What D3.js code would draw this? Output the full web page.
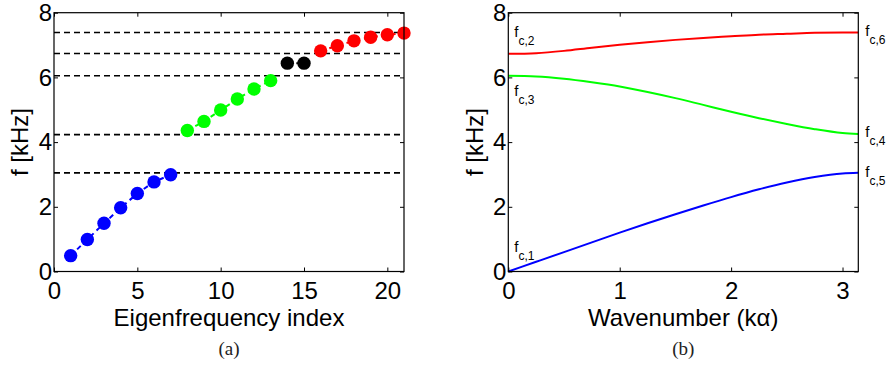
<!DOCTYPE html>
<html>
<head>
<meta charset="utf-8">
<script src="https://cdn.jsdelivr.net/npm/d3@7/dist/d3.min.js"></script>
<style>
  body { margin: 0; background: #fff; }
  text { font-family: "Liberation Sans", Arial, sans-serif; }
</style>
</head>
<body>
<svg id="fig" width="887" height="367"></svg>
<script>
// ---- panel (a) data ----
const eigenIndex = [1, 2, 3, 4, 5, 6, 7, 8, 9, 10, 11, 12, 13, 14, 15, 16, 17, 18, 19, 20, 21];
const eigenFreq = [0.49, 0.99, 1.49, 1.97, 2.41, 2.77, 2.99,
                   4.36, 4.64, 4.99, 5.33, 5.64, 5.90,
                   6.44, 6.44,
                   6.82, 6.98, 7.13, 7.24, 7.32, 7.37];
const eigenGroup = ["b", "b", "b", "b", "b", "b", "b",
                    "g", "g", "g", "g", "g", "g",
                    "k", "k",
                    "r", "r", "r", "r", "r", "r"];
const cutoffFreq = [3.05, 4.23, 6.05, 6.74, 7.39];
const xTicksA = [0, 5, 10, 15, 20];
const yTicks = [0, 2, 4, 6, 8];

// ---- panel (b) data ----
const wavenumber = [0, 0.25, 0.5, 0.75, 1.0, 1.25, 1.5, 1.75, 2.0, 2.25, 2.5, 2.75, 3.0, 3.1416];
const branch1 = [0, 0.30, 0.60, 0.90, 1.20, 1.49, 1.77, 2.04, 2.30, 2.54, 2.75, 2.92, 3.03, 3.05];
const branch2 = [6.05, 6.03, 5.96, 5.85, 5.72, 5.55, 5.36, 5.15, 4.94, 4.74, 4.56, 4.40, 4.28, 4.25];
const branch3 = [6.73, 6.75, 6.82, 6.92, 7.01, 7.09, 7.16, 7.22, 7.27, 7.32, 7.35, 7.38, 7.39, 7.39];
const xTicksB = [0, 1, 2, 3];

const colors = { b: "#0000ff", g: "#00ff00", k: "#000000", r: "#ff0000" };

const svg = d3.select("#fig");
const plotTop = 12.7, plotBottom = 271.5;
const fs = 24;

function frame(g, x, y, xTicks, xLabel, yLabelX, tag) {
  const x0 = x.range()[0], x1 = x.range()[1];
  const cx = (x0 + x1) / 2;

  // bottom axis with labels
  g.append("g").attr("transform", `translate(0,${plotBottom})`)
    .call(d3.axisBottom(x).tickValues(xTicks).tickFormat(d3.format("d"))
      .tickSizeInner(-4).tickSizeOuter(0).tickPadding(10))
    .call(a => a.select(".domain").remove())
    .call(a => a.selectAll("text").attr("font-size", fs));
  // top axis, ticks only
  g.append("g").attr("transform", `translate(0,${plotTop})`)
    .call(d3.axisTop(x).tickValues(xTicks).tickSizeInner(-4).tickSizeOuter(0).tickFormat(""))
    .call(a => a.select(".domain").remove());
  // left axis with labels
  g.append("g").attr("transform", `translate(${x0},0)`)
    .call(d3.axisLeft(y).tickValues(yTicks).tickSizeInner(-4).tickSizeOuter(0).tickPadding(2))
    .call(a => a.select(".domain").remove())
    .call(a => a.selectAll("text").attr("font-size", fs));
  // right axis, ticks only
  g.append("g").attr("transform", `translate(${x1},0)`)
    .call(d3.axisRight(y).tickValues(yTicks).tickSizeInner(-4).tickSizeOuter(0).tickFormat(""))
    .call(a => a.select(".domain").remove());

  g.append("rect")
    .attr("x", x0).attr("y", plotTop)
    .attr("width", x1 - x0).attr("height", plotBottom - plotTop)
    .attr("fill", "none").attr("stroke", "#000").attr("stroke-width", 1.2);

  g.append("text")
    .attr("x", cx).attr("y", 326)
    .attr("text-anchor", "middle")
    .attr("font-size", fs)
    .text(xLabel);

  g.append("text")
    .attr("transform", `translate(${yLabelX},${(plotTop + plotBottom) / 2}) rotate(-90)`)
    .attr("text-anchor", "middle")
    .attr("font-size", fs)
    .text("f [kHz]");

  g.append("text")
    .attr("x", cx).attr("y", 355)
    .attr("text-anchor", "middle")
    .attr("font-size", 19)
    .style("font-family", "'Liberation Serif', 'Times New Roman', serif")
    .attr("fill", "#222")
    .text(tag);
}

// ================= panel (a) =================
const xA = d3.scaleLinear().domain([0, 21]).range([54, 404]);
const y = d3.scaleLinear().domain([0, 8]).range([plotBottom, plotTop]);
const gA = svg.append("g");

// dashed cut-off lines
gA.selectAll("line.cut")
  .data(cutoffFreq)
  .enter()
  .append("line")
    .attr("class", "cut")
    .attr("x1", xA(0)).attr("x2", xA(21))
    .attr("y1", d => y(d)).attr("y2", d => y(d))
    .attr("stroke", "#000")
    .attr("stroke-width", 1.6)
    .attr("stroke-dasharray", "6,4");

const pts = eigenIndex.map((d, i) => ({ i: d, f: eigenFreq[i], grp: eigenGroup[i] }));
const groups = d3.groups(pts, d => d.grp);
const connect = d3.line().x(d => xA(d.i)).y(d => y(d.f));

gA.selectAll("path.conn")
  .data(groups)
  .enter()
  .append("path")
    .attr("class", "conn")
    .attr("d", d => connect(d[1]))
    .attr("fill", "none")
    .attr("stroke", d => colors[d[0]])
    .attr("stroke-width", 2)
    .attr("stroke-dasharray", "5,4");

gA.selectAll("circle")
  .data(pts)
  .enter()
  .append("circle")
    .attr("cx", d => xA(d.i))
    .attr("cy", d => y(d.f))
    .attr("r", 6.7)
    .attr("fill", d => colors[d.grp]);

frame(gA, xA, y, xTicksA, "Eigenfrequency index", 28, "(a)");

// ================= panel (b) =================
const xB = d3.scaleLinear().domain([0, Math.PI]).range([508.3, 858.3]);
const gB = svg.append("g");

const branches = [
  { vals: branch1, color: colors.b },
  { vals: branch2, color: colors.g },
  { vals: branch3, color: colors.r }
];
const curve = d3.line()
  .x((d, i) => xB(wavenumber[i]))
  .y(d => y(d))
  .curve(d3.curveMonotoneX);

gB.selectAll("path.branch")
  .data(branches)
  .enter()
  .append("path")
    .attr("class", "branch")
    .attr("d", d => curve(d.vals))
    .attr("fill", "none")
    .attr("stroke", d => d.color)
    .attr("stroke-width", 2);

frame(gB, xB, y, xTicksB, "Wavenumber (k\u03b1)", 483, "(b)");

// cut-off labels f_c,n
const fcLabels = [
  { n: "1", k: 0, f: 0, side: "L", dy: -19.5 },
  { n: "2", k: 0, f: 6.73, side: "L", dy: -16.5 },
  { n: "3", k: 0, f: 6.05, side: "L", dy: 20 },
  { n: "4", k: Math.PI, f: 4.25, side: "R", dy: 3 },
  { n: "5", k: Math.PI, f: 3.05, side: "R", dy: 4 },
  { n: "6", k: Math.PI, f: 7.39, side: "R", dy: 4 }
];
const lab = gB.selectAll("text.fc")
  .data(fcLabels)
  .enter()
  .append("text")
    .attr("class", "fc")
    .attr("x", d => xB(d.k) + (d.side === "L" ? 6 : 7))
    .attr("y", d => y(d.f) + d.dy)
    .attr("font-size", 15);
lab.append("tspan").text("f");
lab.append("tspan").attr("dy", 8).attr("font-size", 12).text(d => "c," + d.n);
</script>
</body>
</html>
